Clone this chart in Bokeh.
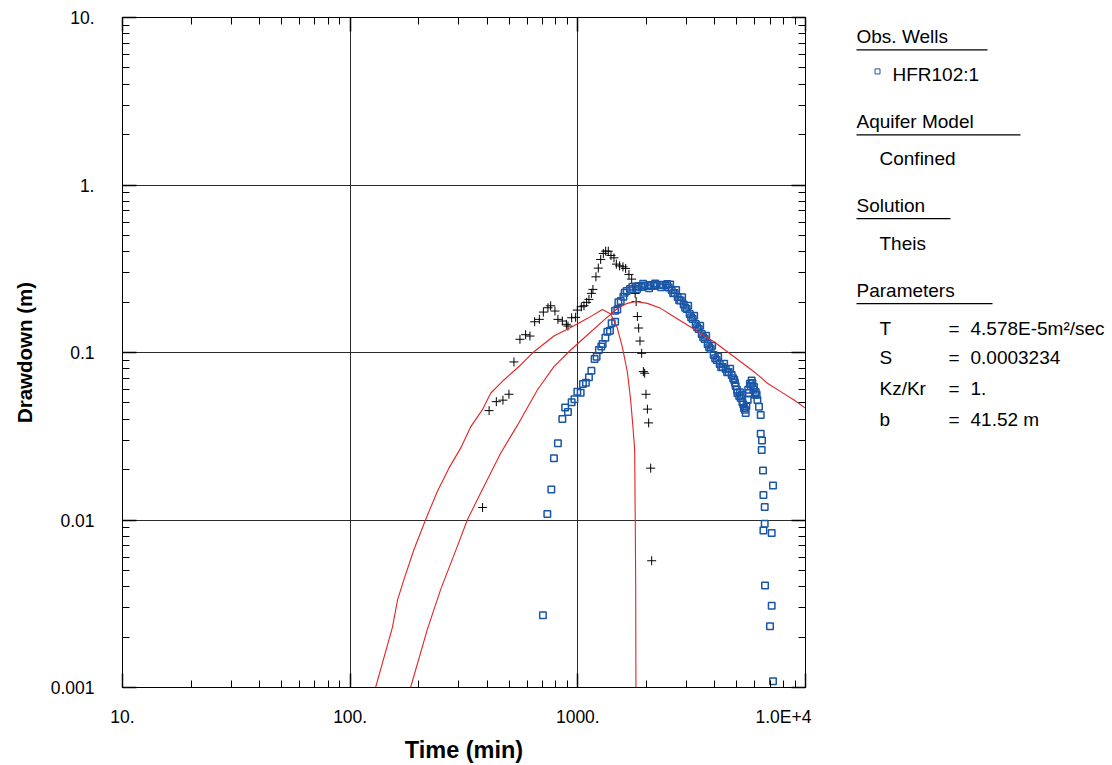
from bokeh.plotting import figure
from bokeh.models import Range1d, LogAxis, FixedTicker, CustomJSTickFormatter, Label
from bokeh.layouts import row
from bokeh.embed import file_html
from bokeh.resources import INLINE

# ---------------- data ----------------
x_major = [10, 100, 1000, 10000]
x_tick_labels = ["10.", "100.", "1000.", "1.0E+4"]
y_major = [0.001, 0.01, 0.1, 1, 10]
y_tick_labels = ["0.001", "0.01", "0.1", "1.", "10."]

# black crosses (derivative data)
cross_t = [381.6, 407.6, 438.5, 468.8, 498.2, 524.1, 556.8, 589.9, 616.1, 646.1,
           677.5, 705.5, 739.1, 759.6, 793.3, 817.7, 855.0, 890.4, 904.9, 939.4,
           978.0, 994.9, 1036, 1064, 1093, 1119, 1147, 1165, 1201, 1230,
           1260, 1294, 1325, 1361, 1398, 1441, 1476, 1526, 1578, 1622,
           1677, 1724, 1765, 1786, 1804, 1826, 1850, 1875, 1907, 1940,
           1966, 1992, 2021, 2047, 2089, 2110]
cross_s = [0.01188, 0.04498, 0.05087, 0.05194, 0.05632, 0.0878, 0.1199, 0.1277, 0.1254, 0.1526,
           0.1577, 0.1743, 0.1850, 0.1901, 0.1768, 0.1577, 0.1541, 0.1473, 0.1439, 0.1612,
           0.1622, 0.1792, 0.1875, 0.1901, 0.1992, 0.2075, 0.2254, 0.2381, 0.2830, 0.3190,
           0.3594, 0.3903, 0.4028, 0.4028, 0.3797, 0.3674, 0.3370, 0.3292, 0.3248, 0.3177,
           0.2925, 0.2743, 0.2457, 0.2254, 0.2014, 0.1639, 0.1400, 0.1171, 0.0989, 0.0769,
           0.0752, 0.0563, 0.0459, 0.0380, 0.0204, 0.00571]

# blue squares: observation well HFR102:1
well_t = [702.6, 734.5, 764.9, 785.2, 817.7, 855.0, 879.6, 904.9, 939.3, 966.3,
          994.9, 1029, 1053, 1085, 1119, 1147, 1185, 1209, 1238, 1268,
          1285, 1321, 1348, 1384, 1408, 1458, 1457, 1491, 1507, 1543,
          1585, 1606, 1639, 1694, 1736, 1795, 1850, 1907, 1966, 2026,
          2089, 2153, 2219, 2288, 2358, 2431, 2506, 2583, 2663, 2745,
          2829, 2917, 3007, 3099, 3195, 3293, 3395, 3499, 3607, 3718,
          3833, 3951, 4073, 4198, 4327, 4461, 4598, 4740, 4862, 4936,
          5022, 5114, 5193, 5283, 5369, 5463, 5574, 5648, 5745, 5845,
          5940, 6043, 6148, 6248, 6357, 6357, 6441, 6422, 6507, 7199,
          6533, 6620, 6620, 6533, 7104, 6641, 7104, 6983, 7199,
          1822, 1936, 2056, 2186, 2322, 2468,
          2544, 2622, 2703, 2786, 2871, 2961, 3052, 3145, 3243, 3342,
          3446, 3551, 3661, 3774, 3890, 4010, 4134, 4261, 4392, 4528,
          4667, 4811,
          4900, 5000, 5150, 5250, 5330, 5420, 5500, 5600, 5700, 5800,
          5900, 6000, 6100]
well_s = [0.00270, 0.01085, 0.01521, 0.02340, 0.02875, 0.04015, 0.04688, 0.04418, 0.05045, 0.05267,
          0.05838, 0.05759, 0.06492, 0.06607, 0.07116, 0.07789, 0.09146, 0.09441, 0.1035, 0.1085,
          0.1124, 0.1225, 0.1330, 0.1349, 0.1493, 0.1527, 0.1775, 0.1809, 0.1992, 0.2028,
          0.2151, 0.2273, 0.2326, 0.2391, 0.2467, 0.2467, 0.2491, 0.2457, 0.2508, 0.2491,
          0.2525, 0.2491, 0.2525, 0.2542, 0.2525, 0.2508, 0.2441, 0.2358, 0.2263, 0.2142,
          0.2042, 0.1932, 0.1817, 0.1696, 0.1584, 0.1479, 0.1380, 0.1289, 0.1203, 0.1124,
          0.1049, 0.0966, 0.0902, 0.0854, 0.0820, 0.0797, 0.0765, 0.0734, 0.0686, 0.0632,
          0.0574, 0.0550, 0.0535, 0.0507, 0.0467, 0.0436, 0.0521, 0.0574, 0.0632, 0.0658,
          0.0623, 0.0581, 0.0521, 0.0475, 0.0424, 0.0327, 0.0298, 0.0262, 0.01974, 0.01607,
          0.01408, 0.01195, 0.00950, 0.00866, 0.00836, 0.00407, 0.00308, 0.00232, 0.00109,
          0.2390, 0.2570, 0.2420, 0.2580, 0.2450, 0.2560,
          0.2551, 0.2256, 0.2365, 0.2050, 0.2134, 0.1849, 0.1899, 0.1623, 0.1655, 0.1415,
          0.1442, 0.1233, 0.1257, 0.1076, 0.1096, 0.0924, 0.0943, 0.0817, 0.0857, 0.0763,
          0.0799, 0.0702,
          0.0660, 0.0600, 0.0580, 0.0560, 0.0490, 0.0455, 0.0480, 0.0600, 0.0650, 0.0680,
          0.0600, 0.0560, 0.0560]

# red model curve (derivative)
deriv_t = [125, 129.3, 153.1, 161.6, 172.2, 190.5, 214.4, 241.4, 271.5, 305.6,
           338.1, 380.5, 414.0, 473.5, 560.8, 641.5, 785.2, 939.3, 1104, 1282,
           1394, 1491, 1569, 1650, 1706, 1746, 1777, 1786, 1795, 1800]
deriv_s = [0.00085, 0.001, 0.002269, 0.003346, 0.004403, 0.006645, 0.01003, 0.01480, 0.02040, 0.02685,
           0.03596, 0.04542, 0.05710, 0.06855, 0.08424, 0.1011, 0.1254, 0.1419, 0.1599, 0.1805,
           0.1696, 0.1400, 0.1078, 0.0765, 0.0521, 0.0360, 0.02623, 0.01105, 0.00440, 0.0009]

# red model curve (Theis drawdown)
theis_t = [177.8, 184.2, 218.1, 249.6, 295.5, 327.2, 374.1, 458.0, 544.0, 664.0,
           785.2, 929.8, 1101, 1302, 1491, 1650, 1795, 2021, 2311, 2644,
           3028, 3464, 3963, 4539, 5191, 5939, 6802, 7783, 8903, 10020]
theis_s = [0.00085, 0.001, 0.002217, 0.003839, 0.006954, 0.01003, 0.01448, 0.02506, 0.03696, 0.05976,
           0.08228, 0.1035, 0.1272, 0.1562, 0.1830, 0.1965, 0.2014, 0.1965, 0.1835, 0.1634,
           0.1459, 0.1301, 0.1160, 0.1011, 0.0881, 0.0768, 0.0655, 0.0584, 0.0521, 0.0464]

legend_headers = ["Obs. Wells", "Aquifer Model", "Solution", "Parameters"]
well_names = ["HFR102:1"]
aquifer_model = "Confined"
solution_name = "Theis"
param_names = ["T", "S", "Kz/Kr", "b"]
param_values = ["4.578E-5m\u00b2/sec", "0.0003234", "1.", "41.52 m"]

# ---------------- styling ----------------
FONT = "Liberation Sans"
BLUE = "#1a56a6"
RED = "#e52222"
TXT = "19px"

FRAME_L, FRAME_T, FRAME_R, FRAME_B = 122, 17, 805, 688
MAIN_W, H = 846, 765
LEG_W = 266

x_minor = [m * 10 ** k for k in range(1, 4) for m in range(2, 10)]
y_minor = [round(m * 10.0 ** k, 6) for k in range(-3, 1) for m in range(2, 10)]

p = figure(width=MAIN_W, height=H, x_axis_type="log", y_axis_type="log",
           x_range=Range1d(x_major[0], x_major[-1]), y_range=Range1d(y_major[0], y_major[-1]),
           output_backend="svg", toolbar_location=None,
           min_border_left=FRAME_L, min_border_top=FRAME_T,
           min_border_right=MAIN_W - FRAME_R, min_border_bottom=H - FRAME_B)
p.background_fill_color = "white"
p.border_fill_color = "white"
p.outline_line_color = "black"
p.outline_line_width = 1


def style_axis(ax, ticks, minor):
    ax.ticker = FixedTicker(ticks=ticks, minor_ticks=minor)
    ax.axis_line_color = "black"
    ax.axis_line_width = 1
    ax.major_tick_in = 14
    ax.major_tick_out = 0
    ax.minor_tick_in = 7
    ax.minor_tick_out = 0
    ax.major_tick_line_color = "black"
    ax.major_tick_line_width = 1.5
    ax.minor_tick_line_color = "black"
    ax.minor_tick_line_width = 1


def hide_labels(ax):
    ax.major_label_text_font_size = "0px"
    ax.major_label_text_color = None
    ax.major_label_standoff = 0


# left axis
yax = p.yaxis[0]
style_axis(yax, y_major, y_minor)
yax.formatter = CustomJSTickFormatter(args=dict(vals=y_major, labels=y_tick_labels), code="""
    const i = vals.findIndex(v => Math.abs(Math.log10(v) - Math.log10(tick)) < 1e-6);
    return i >= 0 ? labels[i] : "";
""")
yax.major_label_text_font = FONT
yax.major_label_text_font_size = "17.5px"
yax.major_label_text_color = "black"
yax.major_label_standoff = 28
yax.axis_label = "Drawdown (m)"
yax.axis_label_text_font = FONT
yax.axis_label_text_font_style = "bold"
yax.axis_label_text_font_size = "20.5px"
yax.axis_label_text_color = "black"
yax.axis_label_standoff = 12

# bottom axis: ticks only (closest to the frame)
xax = p.xaxis[0]
style_axis(xax, x_major, x_minor)
hide_labels(xax)

# bottom axis: tick labels + title (the last label is shifted left to end at the frame edge)
x_label_pos = x_major[:-1] + [x_major[-1] * 10 ** (-22 / 227.5)]
xlab = LogAxis(ticker=FixedTicker(ticks=x_label_pos, minor_ticks=[]))
xlab.axis_line_color = None
xlab.major_tick_line_color = None
xlab.minor_tick_line_color = None
xlab.major_tick_in = 0
xlab.major_tick_out = 0
xlab.minor_tick_in = 0
xlab.minor_tick_out = 0
xlab.formatter = CustomJSTickFormatter(args=dict(pos=x_label_pos, labels=x_tick_labels), code="""
    const i = pos.findIndex(v => Math.abs(Math.log10(v) - Math.log10(tick)) < 1e-6);
    return i >= 0 ? labels[i] : "";
""")
xlab.major_label_text_font = FONT
xlab.major_label_text_font_size = "17.5px"
xlab.major_label_text_color = "black"
xlab.major_label_standoff = 19
xlab.axis_label = "Time (min)"
xlab.axis_label_text_font = FONT
xlab.axis_label_text_font_style = "bold"
xlab.axis_label_text_font_size = "23.5px"
xlab.axis_label_text_color = "black"
xlab.axis_label_standoff = 7
p.add_layout(xlab, "below")

# top and right axes (ticks only)
top = LogAxis()
style_axis(top, x_major, x_minor)
hide_labels(top)
p.add_layout(top, "above")
right = LogAxis()
style_axis(right, y_major, y_minor)
hide_labels(right)
p.add_layout(right, "right")

# grid
p.xgrid.ticker = FixedTicker(ticks=x_major)
p.ygrid.ticker = FixedTicker(ticks=y_major)
p.grid.grid_line_color = "#2a2a2a"
p.grid.grid_line_width = 1
p.grid.minor_grid_line_color = None

# data
p.scatter(cross_t, cross_s, marker="cross", size=9, line_color="black", line_width=1)
p.scatter(well_t, well_s, marker="square", size=6.5, fill_color=None,
          line_color=BLUE, line_width=1.5)
p.line(deriv_t, deriv_s, line_color=RED, line_width=1.1)
p.line(theis_t, theis_s, line_color=RED, line_width=1.1)

# ---------------- legend panel (coordinates = page pixels) ----------------
LEG_X0 = MAIN_W
q = figure(width=LEG_W, height=H,
           x_range=Range1d(LEG_X0, LEG_X0 + LEG_W), y_range=Range1d(FRAME_B, FRAME_T),
           output_backend="svg", toolbar_location=None,
           x_axis_type=None, y_axis_type=None,
           min_border_left=0, min_border_right=0,
           min_border_top=FRAME_T, min_border_bottom=H - FRAME_B)
q.outline_line_color = None
q.background_fill_color = "white"
q.border_fill_color = "white"


def qlabel(x, y, text):
    q.add_layout(Label(x=x, y=y, text=text, text_align="left", text_baseline="middle",
                       text_font=FONT, text_font_size=TXT, text_color="black"))


header_y = [36, 121, 205, 290]
underline_x1 = [987, 1020, 950, 992]
for hy, htxt in zip(header_y, legend_headers):
    qlabel(856, hy, htxt)
q.segment(x0=[856] * 4, y0=[hy + 13.5 for hy in header_y], x1=underline_x1,
          y1=[hy + 13.5 for hy in header_y], line_color="black", line_width=1.2)

q.scatter([877], [71], marker="square", size=5, fill_color=None, line_color=BLUE, line_width=1)
qlabel(892, 74, well_names[0])
qlabel(879, 158, aquifer_model)
qlabel(879, 243, solution_name)
param_y = [328, 358, 389, 420]
for py, nm, val in zip(param_y, param_names, param_values):
    qlabel(879, py, nm)
    qlabel(948, py, "=")
    qlabel(970, py, val)

layout = row(p, q, spacing=0)
open("out.html", "w").write(file_html(layout, INLINE))
